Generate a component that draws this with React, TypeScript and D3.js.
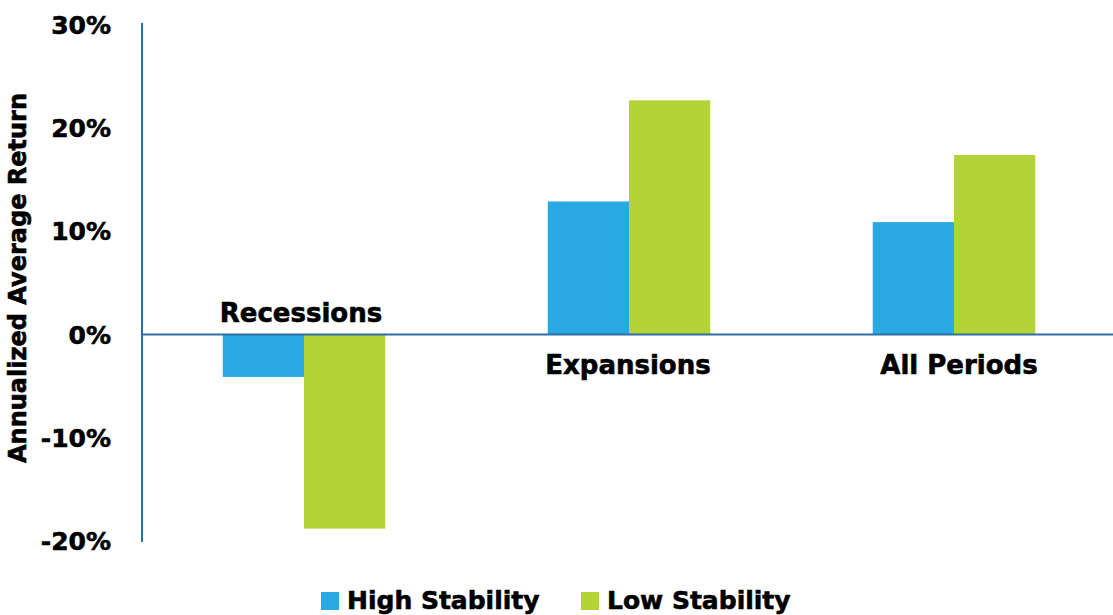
import React from "react";
import * as d3 from "d3";

const categories = ["Recessions", "Expansions", "All Periods"];
const seriesNames = ["High Stability", "Low Stability"];
const highStability = [-4.1, 12.9, 10.9];
const lowStability = [-18.8, 22.7, 17.4];
const yTicks = [30, 20, 10, 0, -10, -20];
const colors = ["#29a9e1", "#b3d337"];

const W = 1113;
const H = 615;
const FONT = "'DejaVu Sans', sans-serif";
const labelShift = [-3, -1, 5];

export default function App() {
  const y = d3.scaleLinear().domain([-20, 30]).range([541, 25]);
  const x = d3
    .scaleBand<string>()
    .domain(categories)
    .range([141.5, 1116.5])
    .paddingInner(0.5)
    .paddingOuter(0.25);
  const xs = d3.scaleBand<string>().domain(seriesNames).range([0, x.bandwidth()]);
  const values = [highStability, lowStability];
  const heavy = { stroke: "#000", strokeWidth: 0.6 };

  return (
    <svg
      width={W}
      height={H}
      style={{ position: "absolute", left: 0, top: 0, background: "#fff" }}
      fontFamily={FONT}
      fontWeight="bold"
    >
      {categories.map((c, i) =>
        seriesNames.map((s, j) => {
          const v = values[j][i];
          const x0 = (x(c) as number) + (xs(s) as number);
          return (
            <rect
              key={c + s}
              x={x0}
              width={xs.bandwidth()}
              y={Math.min(y(v), y(0))}
              height={Math.abs(y(v) - y(0))}
              fill={colors[j]}
            />
          );
        })
      )}
      <line x1={142} x2={W} y1={y(0)} y2={y(0)} stroke="#2e6ea6" strokeWidth={2} />
      <line x1={142} x2={142} y1={23} y2={542} stroke="#2e6ea6" strokeWidth={2} />
      {yTicks.map((t) => (
        <text key={t} x={111} y={y(t)} dy="0.36em" textAnchor="end" fontSize={25} fill="#000" {...heavy}>
          {t + "%"}
        </text>
      ))}
      <text
        transform={`translate(26,278) rotate(-90)`}
        textAnchor="middle"
        fontSize={24}
        fill="#000"
        {...heavy}
      >
        Annualized Average Return
      </text>
      {categories.map((c, i) => {
        const neg = highStability[i] < 0 || lowStability[i] < 0;
        const cx = (x(c) as number) + x.bandwidth() / 2 + labelShift[i];
        return (
          <text
            key={c}
            x={cx}
            y={neg ? y(0) - 13 : y(0) + 39}
            textAnchor="middle"
            fontSize={26}
            fill="#000"
            {...heavy}
          >
            {c}
          </text>
        );
      })}
      {seriesNames.map((s, j) => {
        const lx = 321 + j * 260;
        return (
          <g key={s}>
            <rect x={lx} y={592} width={18} height={18} fill={colors[j]} />
            <text x={lx + 26} y={609} fontSize={25} fill="#000" {...heavy}>
              {s}
            </text>
          </g>
        );
      })}
    </svg>
  );
}
